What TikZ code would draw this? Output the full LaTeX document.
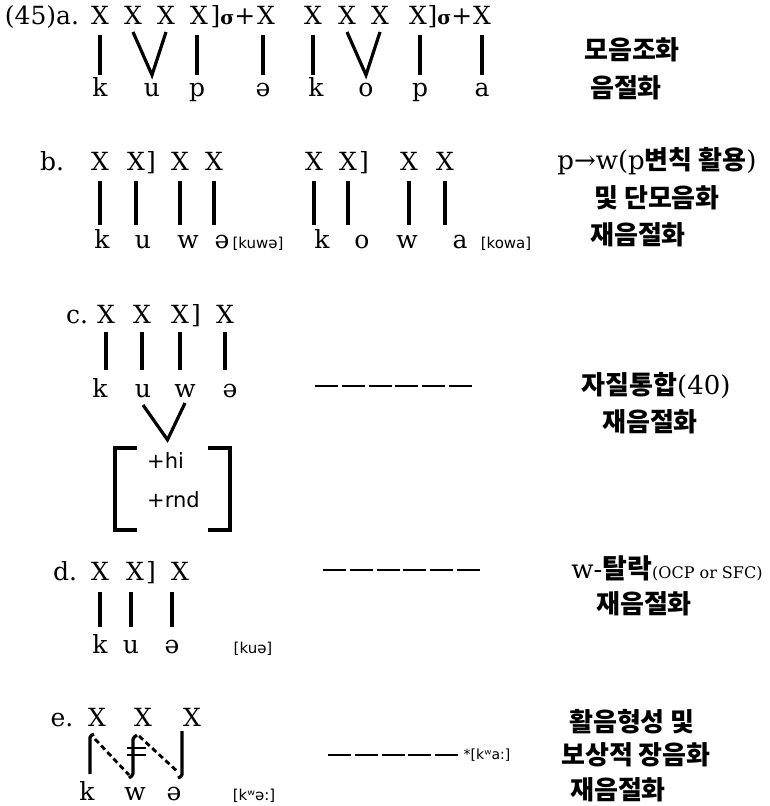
\documentclass[tikz,border=0pt]{standalone}
\usepackage{fontspec}
\setmainfont{DejaVu Serif}
\setsansfont{DejaVu Sans}
\newfontfamily\krfont{Noto Sans CJK KR}
\newcommand\hg[1]{{\krfont\bfseries #1}}
\begin{document}
\begin{tikzpicture}[x=1pt,y=-1pt,
 seg/.style={inner sep=0pt, anchor=base, font=\fontsize{25}{28}\selectfont},
 smalltxt/.style={inner sep=0pt, anchor=base, font=\sffamily\fontsize{15}{18}\selectfont},
 feat/.style={inner sep=0pt, anchor=base west, font=\sffamily\fontsize{21}{24}\selectfont},
 kr/.style={inner sep=0pt, anchor=center, font=\fontsize{26}{28}\selectfont},
 assoc/.style={line width=3.2pt},
 newassoc/.style={line width=2.8pt, dash pattern=on 5.5pt off 3.5pt},
 rulex/.style={line width=1.6pt, dash pattern=on 23pt off 3.8pt},
 brk/.style={line width=3.6pt},
 bar/.style={line width=1.8pt}
]
\fill[white] (0,0) rectangle (770,806);
\useasboundingbox (0,0) rectangle (770,806);

% ---------- (a)
\node[seg] (la) at (42,24) {(45)a.};
\node[seg] (a1) at (100,24) {X};
\node[seg] (a2) at (133,24) {X};
\node[seg] (a3) at (166,24) {X};
\node[seg] (a4) at (199,24) {X};
\node[seg] (s1) at (233,24) {]\textbf{\fontsize{19}{20}\selectfont σ}+};
\node[seg] (a5) at (266,24) {X};
\node[seg] (a6) at (313,24) {X};
\node[seg] (a7) at (347,24) {X};
\node[seg] (a8) at (380,24) {X};
\node[seg] (a9) at (418,24) {X};
\node[seg] (s2) at (450,24) {]\textbf{\fontsize{19}{20}\selectfont σ}+};
\node[seg] (a10) at (482,24) {X};
\node[seg] (ak) at (100,96) {k};
\node[seg] (au) at (152,96) {u};
\node[seg] (ap) at (197,96) {p};
\node[seg] (ae) at (263,96) {ə};
\node[seg] (ak2) at (316,96) {k};
\node[seg] (ao) at (366,96) {o};
\node[seg] (ap2) at (420,96) {p};
\node[seg] (aa) at (482,96) {a};
\draw[assoc] ([yshift=-11pt]ak.base |- a1.base) -- ([yshift=21pt]ak.base);
\draw[assoc] ([yshift=-8pt]a2.base) -- ([yshift=21pt]au.base) -- ([yshift=-8pt]a3.base);
\draw[assoc] ([yshift=-11pt]ap.base |- a4.base) -- ([yshift=21pt]ap.base);
\draw[assoc] ([yshift=-11pt]ae.base |- a5.base) -- ([yshift=21pt]ae.base);
\draw[assoc] ([yshift=-11pt]a6.base) -- ([yshift=21pt]a6.base |- ak2.base);
\draw[assoc] ([yshift=-8pt]a7.base) -- ([yshift=21pt]ao.base) -- ([yshift=-8pt]a8.base);
\draw[assoc] ([yshift=-11pt]ap2.base |- a9.base) -- ([yshift=21pt]ap2.base);
\draw[assoc] ([yshift=-11pt]aa.base |- a10.base) -- ([yshift=21pt]aa.base);
\node[kr] (ta1) at (632,50) {\hg{모음조화}};
\node[kr] (ta2) at (626,88) {\hg{음절화}};

% ---------- (b)
\node[seg] (lb) at (52,170) {b.};
\node[seg] (b1) at (100,170) {X};
\node[seg] (b2) at (136,170) {X};
\node[seg] (bb1) at (151,170) {]};
\node[seg] (b3) at (180,170) {X};
\node[seg] (b4) at (214,170) {X};
\node[seg] (b5) at (314,170) {X};
\node[seg] (b6) at (348,170) {X};
\node[seg] (bb2) at (364,170) {]};
\node[seg] (b7) at (409,170) {X};
\node[seg] (b8) at (445,170) {X};
\node[seg] (bk) at (102,248) {k};
\node[seg] (bu) at (143,248) {u};
\node[seg] (bw) at (188,248) {w};
\node[seg] (be) at (222,248) {ə};
\node[smalltxt] (bt1) at (258,248) {[kuwə]};
\node[seg] (bk2) at (322,248) {k};
\node[seg] (bo) at (362,248) {o};
\node[seg] (bw2) at (407,248) {w};
\node[seg] (ba) at (460,248) {a};
\node[smalltxt] (bt2) at (506,248) {[kowa]};
\foreach \x/\y in {b1/bk,b2/bu,b3/bw,b4/be,b5/bk2,b6/bo,b7/bw2,b8/ba}
  \draw[assoc] ([yshift=-11pt]\x.base) -- ([yshift=23pt]\x.base |- \y.base);
\node[kr] (tb1) at (657,161) {p→w(p\hg{변칙 활용})};
\node[kr] (tb2) at (657,198) {\hg{및 단모음화}};
\node[kr] (tb3) at (638,235) {\hg{재음절화}};

% ---------- (c)
\node[seg] (lc) at (77,323) {c.};
\node[seg] (c1) at (106,323) {X};
\node[seg] (c2) at (142,323) {X};
\node[seg] (c3) at (180,323) {X};
\node[seg] (cb) at (196,323) {]};
\node[seg] (c4) at (225,323) {X};
\node[seg] (ck) at (100,397) {k};
\node[seg] (cu) at (143,397) {u};
\node[seg] (cw) at (185,397) {w};
\node[seg] (ce) at (230,397) {ə};
\foreach \x/\y in {c1/ck,c2/cu,c3/cw,c4/ce}
  \draw[assoc] ([yshift=-9pt]\x.base) -- ([yshift=27pt]\x.base |- \y.base);
\node[minimum width=115pt, minimum height=82pt, inner sep=0pt] (fm) at (172.5,489) {};
\draw[assoc] ([yshift=-8pt]cu.base) -- ([xshift=-5pt,yshift=8pt]fm.north) -- ([yshift=-6pt]cw.base);
\draw[brk] ([xshift=22pt]fm.north west) -- (fm.north west) -- (fm.south west) -- ([xshift=22pt]fm.south west);
\draw[brk] ([xshift=-22pt]fm.north east) -- (fm.north east) -- (fm.south east) -- ([xshift=-22pt]fm.south east);
\node[feat] (fhi) at (147,468) {+hi};
\node[feat] (frnd) at (147,507) {+rnd};
\coordinate (rc1) at (315,386);
\coordinate (rc2) at (472,386);
\draw[rulex] (rc1) -- (rc2);
\node[kr] (tc1) at (656,385) {\hg{자질통합}(40)};
\node[kr] (tc2) at (650,422) {\hg{재음절화}};

% ---------- (d)
\node[seg] (ld) at (65,580) {d.};
\node[seg] (d1) at (100,580) {X};
\node[seg] (d2) at (135,580) {X};
\node[seg] (db) at (151,580) {]};
\node[seg] (d3) at (180,580) {X};
\node[seg] (dk) at (100,653) {k};
\node[seg] (du) at (131,653) {u};
\node[seg] (de) at (172,653) {ə};
\node[smalltxt] (dt) at (253,653) {[kuə]};
\foreach \x/\y in {d1/dk,d2/du,d3/de}
  \draw[assoc] ([yshift=-12pt]\y.base |- \x.base) -- ([yshift=26pt]\y.base);
\coordinate (rd1) at (323,570);
\coordinate (rd2) at (480,570);
\draw[rulex] (rd1) -- (rd2);
\node[kr] (td1) at (667,568) {w-\hg{\fontsize{27}{28}\selectfont 탈락}{\fontsize{16}{18}\selectfont(OCP or SFC)}};
\node[kr] (td2) at (644,604) {\hg{재음절화}};

% ---------- (e)
\node[seg] (le) at (62,726) {e.};
\node[seg] (e1) at (97,726) {X};
\node[seg] (e2) at (143,726) {X};
\node[seg] (e3) at (192,726) {X};
\node[seg] (ek) at (87,800) {k};
\node[seg] (ew) at (135,800) {w};
\node[seg] (ee) at (174,800) {ə};
\node[smalltxt] (et) at (254,800) {[kʷə:]};
\draw[assoc, rounded corners=1.5pt] ([xshift=3pt,yshift=26pt]ek.base) -- ([xshift=-7pt,yshift=-10pt]e1.base) -- ([xshift=-3pt,yshift=-8pt]e1.base);
\draw[newassoc] ([xshift=-2pt,yshift=-13pt]e1.base) -- ([xshift=-6pt,yshift=25pt]ew.base);
\draw[assoc, rounded corners=1.5pt] ([xshift=-6pt,yshift=22pt]ew.base) -- ([xshift=-2pt,yshift=25pt]ew.base) -- ([xshift=-10pt,yshift=-12pt]e2.base) -- ([xshift=-6pt,yshift=-9pt]e2.base);
\draw[bar] ([xshift=-16pt,yshift=-22pt]e2.base) -- ([xshift=3pt,yshift=-22pt]e2.base);
\draw[bar] ([xshift=-16pt,yshift=-29pt]e2.base) -- ([xshift=3pt,yshift=-29pt]e2.base);
\draw[newassoc] ([xshift=-4pt,yshift=-10pt]e2.base) -- ([xshift=4pt,yshift=28pt]ee.base);
\draw[assoc, rounded corners=1.5pt] ([xshift=-10pt,yshift=-5pt]e3.base) -- ([xshift=8pt,yshift=24pt]ee.base) -- ([xshift=4pt,yshift=22pt]ee.base);
\coordinate (re1) at (328,755);
\coordinate (re2) at (458,755);
\draw[rulex] (re1) -- (re2);
\node[kr, font=\sffamily\fontsize{14}{16}\selectfont] (ex) at (487,755) {*[kʷa:]};
\node[kr] (te1) at (632,722) {\hg{활음형성 및}};
\node[kr] (te2) at (636,755) {\hg{보상적 장음화}};
\node[kr] (te3) at (618,790) {\hg{재음절화}};
\end{tikzpicture}
\end{document}
